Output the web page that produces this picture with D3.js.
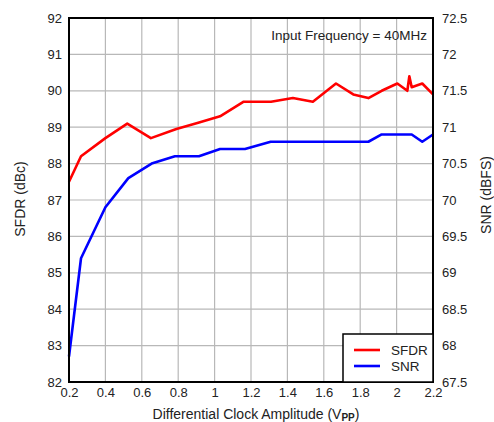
<!DOCTYPE html>
<html><head><meta charset="utf-8">
<script src="https://cdn.jsdelivr.net/npm/d3@7"></script>
<style>body{margin:0;background:#fff}svg{font-family:"Liberation Sans",Arial,sans-serif}</style>
</head><body><svg id="c" width="494" height="422"></svg>
<script>
const sfdrX = [0.2,0.266,0.4,0.52,0.65,0.79,0.91,1.03,1.16,1.31,1.43,1.54,1.667,1.762,1.845,1.918,2.004,2.059,2.07,2.083,2.141,2.2];
const sfdrY = [87.5,88.2,88.7,89.1,88.7,88.95,89.12,89.3,89.7,89.7,89.8,89.7,90.2,89.9,89.8,90.0,90.2,90.0,90.4,90.1,90.2,89.9];
const snrX = [0.2,0.266,0.4,0.526,0.654,0.782,0.914,1.03,1.167,1.308,1.845,1.918,2.083,2.141,2.2];
const snrY = [67.85,69.2,69.9,70.3,70.5,70.6,70.6,70.7,70.7,70.8,70.8,70.9,70.9,70.8,70.9];
const xTicks = [0.2,0.4,0.6,0.8,1,1.2,1.4,1.6,1.8,2,2.2];
const leftTicks = [82,83,84,85,86,87,88,89,90,91,92];
const rightTicks = [67.5,68,68.5,69,69.5,70,70.5,71,71.5,72,72.5];
const seriesNames = ["SFDR","SNR"];

const L=69,R=433,T=18,B=382;
const svg=d3.select("#c");
const x=d3.scaleLinear().domain([0.2,2.2]).range([L,R]);
const yl=d3.scaleLinear().domain([82,92]).range([B,T]);
const yr=d3.scaleLinear().domain([67.5,72.5]).range([B,T]);

// grid
svg.append("g").selectAll("line").data(xTicks).join("line")
 .attr("x1",d=>x(d)).attr("x2",d=>x(d)).attr("y1",T).attr("y2",B)
 .attr("stroke","#b8b8b8").attr("stroke-width",1.2);
svg.append("g").selectAll("line").data(leftTicks).join("line")
 .attr("x1",L).attr("x2",R).attr("y1",d=>yl(d)).attr("y2",d=>yl(d))
 .attr("stroke","#b8b8b8").attr("stroke-width",1.2);

// axes labels
const fs=13;
const ax=svg.append("g").attr("transform",`translate(0,${B})`)
 .call(d3.axisBottom(x).tickValues(xTicks).tickSize(0).tickPadding(6).tickFormat(d3.format("~g")));
const al=svg.append("g").attr("transform",`translate(${L},0)`)
 .call(d3.axisLeft(yl).tickValues(leftTicks).tickSize(0).tickPadding(7).tickFormat(d3.format("~g")));
const ar=svg.append("g").attr("transform",`translate(${R},0)`)
 .call(d3.axisRight(yr).tickValues(rightTicks).tickSize(0).tickPadding(9).tickFormat(d3.format("~g")));
[ax,al,ar].forEach(g=>{g.select(".domain").remove();g.selectAll("text").attr("font-size",fs).attr("fill","#222").style("font-family","Liberation Sans, Arial, sans-serif");});

// lines
const line=(xs,ys,yS)=>d3.line().x((d,i)=>x(xs[i])).y((d,i)=>yS(ys[i]))(ys);
svg.append("path").attr("d",line(snrX,snrY,yr)).attr("fill","none").attr("stroke","#0000ff").attr("stroke-width",2.6).attr("stroke-linejoin","round");
svg.append("path").attr("d",line(sfdrX,sfdrY,yl)).attr("fill","none").attr("stroke","#ff0000").attr("stroke-width",2.6).attr("stroke-linejoin","round");

// frame
svg.append("rect").attr("x",L).attr("y",T).attr("width",R-L).attr("height",B-T)
 .attr("fill","none").attr("stroke","#000").attr("stroke-width",2);

// annotation
svg.append("text").attr("x",427).attr("y",40).attr("text-anchor","end").attr("font-size",13.5).attr("fill","#222").text("Input Frequency = 40MHz");

// legend
const lg=svg.append("g");
lg.append("rect").attr("x",343).attr("y",334).attr("width",R-343).attr("height",B-334).attr("fill","#fff").attr("stroke","#000").attr("stroke-width",1.5);
const colors=["#ff0000","#0000ff"];
seriesNames.forEach((n,i)=>{
 const yy=350+i*16;
 lg.append("line").attr("x1",354).attr("x2",380).attr("y1",yy).attr("y2",yy).attr("stroke",colors[i]).attr("stroke-width",2.6);
 lg.append("text").attr("x",391).attr("y",yy+5).attr("font-size",13.5).attr("fill","#222").text(n);
});

// axis titles
svg.append("text").attr("transform","translate(25,199) rotate(-90)").attr("text-anchor","middle").attr("font-size",14).attr("fill","#222").text("SFDR (dBc)");
svg.append("text").attr("transform","translate(491,195) rotate(-90)").attr("text-anchor","middle").attr("font-size",14).attr("fill","#222").text("SNR (dBFS)");
const xt=svg.append("text").attr("x",256).attr("y",419).attr("text-anchor","middle").attr("font-size",14).attr("fill","#222");
xt.append("tspan").text("Differential Clock Amplitude (V");
xt.append("tspan").attr("font-size",10).attr("font-weight","bold").attr("dy",1.5).text("PP");
xt.append("tspan").attr("dy",-1.5).text(")");
</script></body></html>
